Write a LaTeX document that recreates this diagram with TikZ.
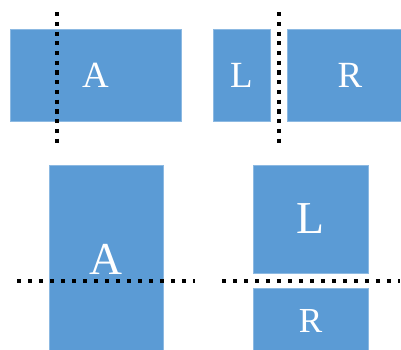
\documentclass[tikz,border=0pt]{standalone}
\usepackage{fontspec}
\setmainfont{Liberation Serif}
\usetikzlibrary{positioning}

\definecolor{splitblue}{RGB}{91,155,213}

\begin{document}
\begin{tikzpicture}[
    x=0.02cm, y=-0.02cm,
    part/.style={fill=splitblue, draw=splitblue!70!white, line width=0.4pt, inner sep=0pt, outer sep=0pt, text=white},
    vcut/.style={line width=0.085cm, dash pattern=on 0.085cm off 0.11cm},
    hcut/.style={line width=0.085cm, dash pattern=on 0.085cm off 0.135cm}
]
\useasboundingbox (0,0) rectangle (401,349);
% top row: vertical split
\node[part, minimum width=3.42cm, minimum height=1.84cm, font=\fontsize{21}{23}\selectfont] (topA) at (95.5,75) {A};
\node[part, minimum width=1.14cm, minimum height=1.84cm, font=\fontsize{21}{23}\selectfont] (topL) at (241.5,75) {L};
\node[part, minimum width=2.52cm, minimum height=1.84cm, font=\fontsize{21}{23}\selectfont] (topR) at (350,75) {R};
\draw[vcut] (57,12) -- (57,143);
\draw[vcut] (279,12) -- (279,143);
% bottom row: horizontal split
\node[part, minimum width=2.28cm, minimum height=3.76cm, font=\fontsize{26}{28}\selectfont] (botA) at (106,259) {A};
\node[part, minimum width=2.30cm, minimum height=2.16cm, font=\fontsize{26}{28}\selectfont] (botL) at (310.5,219) {L};
\node[part, minimum width=2.30cm, minimum height=1.30cm, font=\fontsize{20}{22}\selectfont] (botR) at (310.5,320.5) {R};
\draw[hcut] (17,281) -- (195,281);
\draw[hcut] (222,281) -- (400,281);
\end{tikzpicture}
\end{document}
